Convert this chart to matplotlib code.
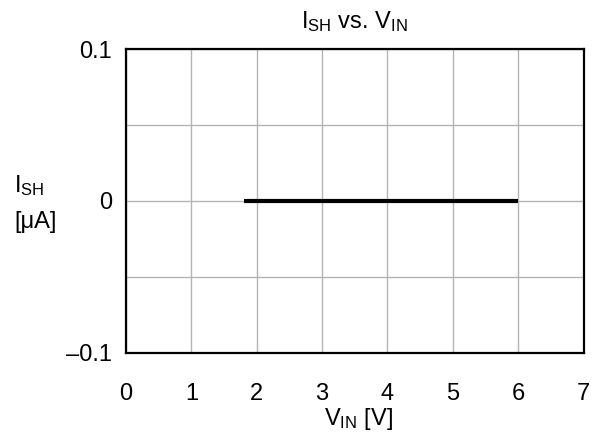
import matplotlib
matplotlib.use("Agg")
import matplotlib.pyplot as plt

plt.rcParams['font.family'] = ['Liberation Sans', 'DejaVu Sans']
plt.rcParams['mathtext.fontset'] = 'custom'
plt.rcParams['mathtext.rm'] = 'Liberation Sans'
plt.rcParams['mathtext.it'] = 'Liberation Sans'

# Data
vin = [1.8, 6.0]
ish = [0.0, 0.0]
xticks = [0, 1, 2, 3, 4, 5, 6, 7]
yticks = [-0.1, 0, 0.1]
yticklabels = ['\u20130.1', '0', '0.1']

FS = 17

fig = plt.figure(figsize=(5.96, 4.32), dpi=100)
ax = fig.add_axes([126/596, 1-352.7/432, (583.5-126)/596, (352.7-49)/432])

ax.plot(vin, ish, color='black', lw=3, solid_capstyle='butt', zorder=3)
ax.set_xlim(0, 7)
ax.set_ylim(-0.1, 0.1)
ax.set_xticks(xticks)
ax.set_xticklabels([str(t) for t in xticks])
ax.set_yticks(yticks)
ax.set_yticklabels(yticklabels)
ax.set_yticks([-0.05, 0.05], minor=True)
ax.grid(True, which='both', color='#b4b4b4', lw=1)
ax.tick_params(which='both', length=0)
ax.tick_params(axis='x', pad=22, labelsize=FS)
ax.tick_params(axis='y', pad=10, labelsize=FS)
for s in ax.spines.values():
    s.set_linewidth(1.6)
    s.set_color('black')

fig.text((126+583.5)/2/596, 1-28/432, r'$\mathregular{I_{SH}}$ vs. $\mathregular{V_{IN}}$',
         ha='center', va='baseline', fontsize=FS)
fig.text(358/596, 1-425/432, r'$\mathregular{V_{IN}}$ [V]', ha='center', va='baseline', fontsize=FS)
fig.text(14/596, 1-192/432, r'$\mathregular{I_{SH}}$', ha='left', va='baseline', fontsize=FS)
fig.text(14/596, 1-228/432, '[\u03bcA]', ha='left', va='baseline', fontsize=FS)

fig.savefig('out.png', dpi=100)
